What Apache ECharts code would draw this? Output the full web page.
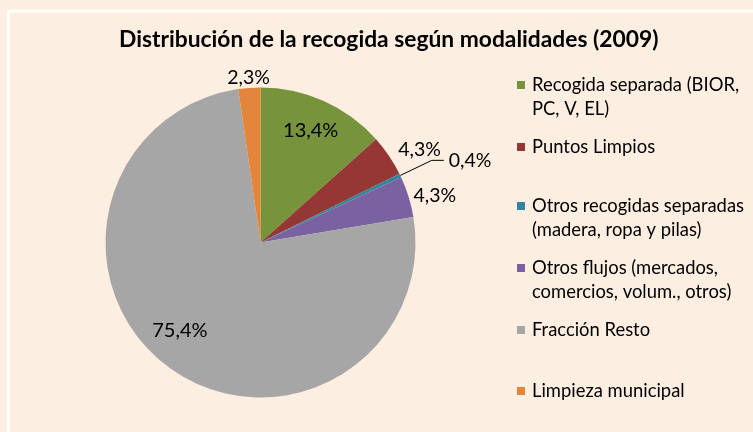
<!DOCTYPE html>
<html>
<head>
<meta charset="utf-8">
<script src="https://cdn.jsdelivr.net/npm/echarts@6/dist/echarts.min.js"></script>
<style>
  html, body { margin: 0; padding: 0; background: #FCEEE1; }
  #chart { width: 753px; height: 432px; }
</style>
</head>
<body>
<div id="chart"></div>
<script>
// Waste collection shares by modality, 2009 (percent)
const categories = [
  'Recogida separada (BIOR, PC, V, EL)',
  'Puntos Limpios',
  'Otros recogidas separadas (madera, ropa y pilas)',
  'Otros flujos (mercados, comercios, volum., otros)',
  'Fracción Resto',
  'Limpieza municipal'
];
const values = [13.4, 4.3, 0.4, 4.3, 75.4, 2.3];
// Legend text as it wraps next to each swatch
const legendText = [
  'Recogida separada (BIOR,\nPC, V, EL)',
  'Puntos Limpios',
  'Otros recogidas separadas\n(madera, ropa y pilas)',
  'Otros flujos (mercados,\ncomercios, volum., otros)',
  'Fracción Resto',
  'Limpieza municipal'
];

const colors = ['#77933C', '#953735', '#31859C', '#7A62A0', '#A6A6A6', '#E4853C'];
const FONT = 'Lato';
const fmt = v => v.toFixed(1).replace('.', ',') + '%';

// which labels sit inside their slice
const insideLabel = [true, false, false, false, true, false];
// outside label placement per slice: [length, length2, distance, show line]
const outerLine = [
  null,
  [10, 0, 1, false],
  [35, 12, 5, true],
  [2, 0, 3, false],
  null,
  [10, 0, 5, false]
];

const pieCenter = [260.5, 242.5];
const pieR = 155;

const mainData = categories.map((name, i) => {
  const item = { name, value: values[i], itemStyle: { color: colors[i] } };
  if (insideLabel[i]) {
    item.label = { show: false };
    item.labelLine = { show: false };
  } else {
    const [len, len2, dist, showLine] = outerLine[i];
    item.label = { show: true, distanceToLabelLine: dist };
    item.labelLine = { show: showLine, length: len, length2: len2 };
  }
  return item;
});

const overlayData = categories.map((name, i) => ({
  name, value: values[i],
  itemStyle: { color: 'rgba(0,0,0,0)' },
  label: { show: insideLabel[i] }
}));

// one legend block per entry, stacked down the right side
const legendIconY = [85, 147, 206, 268, 330, 391];
const LINE_H = 24.5;
const legends = categories.map((name, i) => {
  const lines = legendText[i].split('\n').length;
  // a leading blank line keeps the swatch level with the first text line
  const text = lines > 1 ? '\n' + legendText[i] : legendText[i];
  return {
    orient: 'vertical',
    left: 517,
    top: legendIconY[i] - (lines > 1 ? LINE_H * 1.5 : LINE_H / 2),
    padding: 0,
    itemWidth: 12,
    itemHeight: 8,
    icon: 'path://M0,0h8v8h-8z',
    data: [name],
    formatter: () => text,
    selectedMode: false,
    textStyle: { fontFamily: FONT, fontSize: 18.4, color: '#000', lineHeight: LINE_H }
  };
});

const chart = echarts.init(document.getElementById('chart'), null, { renderer: 'canvas' });
chart.setOption({
  backgroundColor: '#FCEEE1',
  animation: false,
  title: {
    text: 'Distribución de la recogida según modalidades (2009)',
    left: 119,
    top: 28,
    padding: 0,
    textStyle: { fontFamily: FONT, fontSize: 22.8, fontWeight: 'bold', color: '#000' }
  },
  graphic: [{
    type: 'rect',
    silent: true,
    shape: { x: 8.5, y: 11, width: 900, height: 600 },
    style: { fill: 'none', stroke: '#FFFFFF', lineWidth: 3 }
  }],
  legend: legends,
  series: [
    {
      type: 'pie',
      center: pieCenter,
      radius: [0, pieR],
      startAngle: 90,
      clockwise: true,
      avoidLabelOverlap: false,
      data: mainData,
      label: {
        position: 'outside',
        fontFamily: FONT,
        fontSize: 19.5,
        color: '#000',
        formatter: p => fmt(p.value)
      },
      labelLine: { lineStyle: { color: '#000', width: 1 }, smooth: false },
      labelLayout: p => {
        // centre the label that sits right on top of the pie
        if (p.dataIndex === 5) return { dx: p.labelRect.width / 2 + 5 };
        return {};
      },
      emphasis: { disabled: true }
    },
    {
      type: 'pie',
      center: pieCenter,
      radius: [85, pieR],
      startAngle: 90,
      clockwise: true,
      silent: true,
      avoidLabelOverlap: false,
      data: overlayData,
      label: {
        position: 'inside',
        fontFamily: FONT,
        fontSize: 20,
        color: '#000',
        formatter: p => fmt(p.value)
      },
      labelLine: { show: false },
      labelLayout: p => {
        // the large slice's label sits a little closer to the left edge
        if (p.dataIndex === 4) return { dx: -8, dy: -11 };
        return {};
      },
      emphasis: { disabled: true },
      tooltip: { show: false }
    }
  ]
});
</script>
</body>
</html>
